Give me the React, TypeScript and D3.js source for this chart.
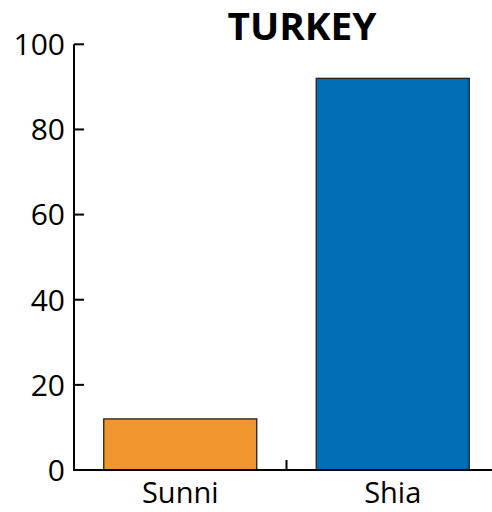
import React from "react";
import * as d3 from "d3";

const categories = ["Sunni", "Shia"];
const values = [12, 92];
const colors = ["#F0962F", "#006DB5"];
const yTicks = [0, 20, 40, 60, 80, 100];
const title = "TURKEY";

const W = 492;
const H = 512;

export default function App() {
  const x = d3.scaleBand<string>().domain(categories).range([74, 499]).padding(0);
  const y = d3.scaleLinear().domain([0, 100]).range([470, 44.3]);
  const barW = x.bandwidth() * 0.72;
  const font = "'Open Sans', sans-serif";

  return (
    <svg
      width={W}
      height={H}
      style={{ position: "absolute", left: 0, top: 0, background: "#fff" }}
    >
      <text x={302} y={40} textAnchor="middle" fontFamily={font} fontWeight="bold" fontSize={38} fill="#000" textLength={149} lengthAdjust="spacingAndGlyphs">
        {title}
      </text>
      {categories.map((c, i) => (
        <rect
          key={c}
          x={(x(c) as number) + (x.bandwidth() - barW) / 2}
          y={y(values[i])}
          width={barW}
          height={y(0) - y(values[i])}
          fill={colors[i]}
          stroke="#231f20"
          strokeWidth={1.3}
        />
      ))}
      {/* y axis */}
      <line x1={74} x2={74} y1={y(100)} y2={y(0)} stroke="#000" strokeWidth={2} />
      {yTicks.map((t) => (
        <g key={t}>
          <line x1={74} x2={84} y1={y(t)} y2={y(t)} stroke="#000" strokeWidth={2} />
          <text x={65} y={y(t)} dy="0.36em" textAnchor="end" fontFamily={font} fontSize={30} fill="#000">
            {t}
          </text>
        </g>
      ))}
      {/* x axis */}
      <line x1={73} x2={W} y1={y(0)} y2={y(0)} stroke="#000" strokeWidth={2} />
      {categories.slice(1).map((c) => (
        <line key={c} x1={x(c) as number} x2={x(c) as number} y1={y(0)} y2={y(0) - 10} stroke="#000" strokeWidth={2} />
      ))}
      {categories.map((c) => (
        <text
          key={c}
          x={(x(c) as number) + x.bandwidth() / 2}
          y={503}
          textAnchor="middle"
          fontFamily={font}
          fontSize={29}
          fill="#000"
        >
          {c}
        </text>
      ))}
    </svg>
  );
}
